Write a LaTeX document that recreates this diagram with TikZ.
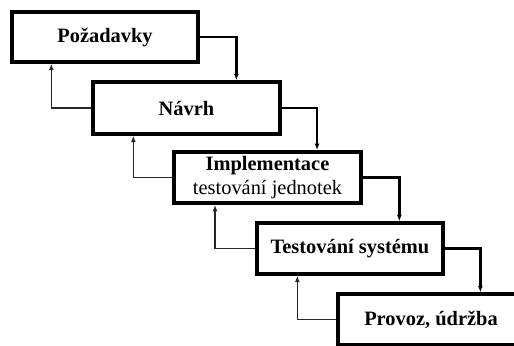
\documentclass[tikz,border=0pt]{standalone}
\usepackage{fontspec}
\setmainfont{Liberation Serif}
\usetikzlibrary{arrows.meta}
\begin{document}
\begin{tikzpicture}[x=1bp,y=-1bp,
  phase/.style={draw=black,line width=3.3bp,rectangle,minimum width=186bp,minimum height=51bp,
    inner sep=0pt,font=\fontsize{20.5}{24}\selectfont\bfseries,align=center},
  fwd/.style={draw=black,line width=2.8bp,-{Latex[length=6.5bp,width=5bp]}},
  back/.style={draw=black!85,line width=1.6bp,-{Latex[length=6.5bp,width=5bp]}}]
\useasboundingbox (0,0) rectangle (514,345);
\clip (0,0) rectangle (514,345);
\fill[white] (0,0) rectangle (514,345);

% phases of the waterfall
\node[phase,minimum height=50bp] (b1) at (105,37) {Požadavky};
\node[phase,minimum width=187bp,minimum height=52bp] (b2) at (186.5,108) {Návrh};
\node[phase,line width=3.9bp,minimum width=187bp] (b3) at (267.5,177.5)
  {Implementace\\[0bp]{\mdseries testování jednotek}};
\node[phase] (b4) at (350,248.5) {Testování systému};
\node[phase] (b5) at (431,319.5) {Provoz, údržba};

% flow down the steps
\draw[fwd] (b1.east) -| ([xshift=145bp]b2.north west);
\draw[fwd] (b2.east) -| ([xshift=145bp]b3.north west);
\draw[fwd] (b3.east) -| ([xshift=144bp]b4.north west);
\draw[fwd] (b4.east) -| ([xshift=144bp]b5.north west);

% feedback to the previous step
\draw[back] (b2.west) -| ([xshift=41bp]b1.south west);
\draw[back] (b3.west) -| ([xshift=42bp]b2.south west);
\draw[back] (b4.west) -| ([xshift=43bp]b3.south west);
\draw[back] (b5.west) -| ([xshift=42bp]b4.south west);
\end{tikzpicture}
\end{document}
